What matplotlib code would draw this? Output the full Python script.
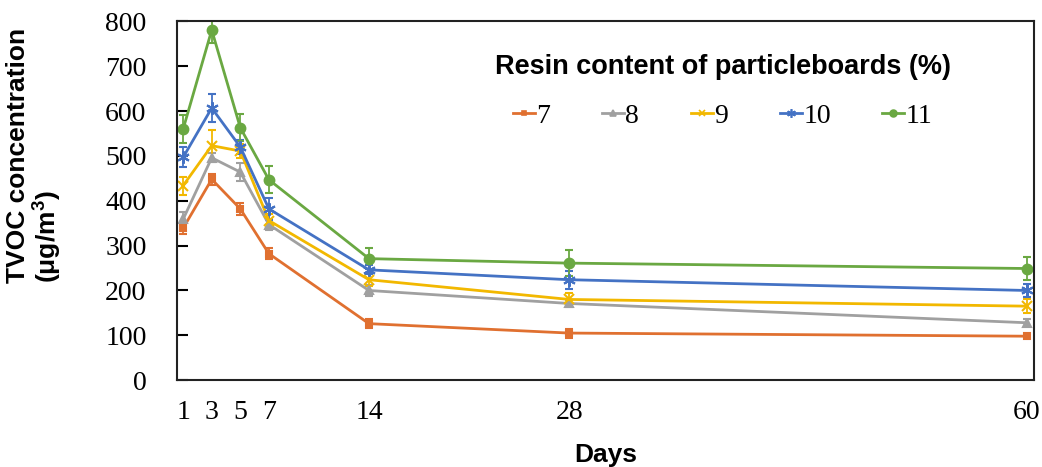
import matplotlib
matplotlib.use("Agg")
import matplotlib.pyplot as plt
from matplotlib.lines import Line2D

# TVOC emission of particleboards with different resin content
days = [1, 3, 5, 7, 14, 28, 60]
resin = ["7", "8", "9", "10", "11"]

tvoc_7 = [339, 448, 382, 282, 126, 105, 98]
tvoc_8 = [359, 496, 464, 347, 200, 171, 128]
tvoc_9 = [434, 523, 511, 356, 224, 180, 165]
tvoc_10 = [497, 607, 520, 382, 246, 224, 200]
tvoc_11 = [560, 781, 563, 447, 271, 261, 249]

err_7 = [12, 12, 14, 12, 10, 10, 4]
err_8 = [15, 10, 20, 12, 12, 8, 8]
err_9 = [20, 34, 15, 15, 15, 15, 15]
err_10 = [22, 32, 15, 25, 10, 20, 15]
err_11 = [32, 30, 30, 30, 24, 29, 26]

series = [tvoc_7, tvoc_8, tvoc_9, tvoc_10, tvoc_11]
errors = [err_7, err_8, err_9, err_10, err_11]
colors = ["#E07030", "#A0A0A0", "#F2B800", "#4472C4", "#6AA842"]
markers = ["s", "^", "x", (6, 2, 0), "o"]
msizes = [4, 6, 7, 9, 7]

serif = ["Liberation Serif", "DejaVu Serif"]
sans = ["Liberation Sans", "DejaVu Sans"]

fig = plt.figure(figsize=(10.42, 4.67), dpi=100)
ax = fig.add_axes([0.170, 0.186, 0.822, 0.768])

handles = []
for name, vals, err, col, mk, ms in zip(resin, series, errors, colors, markers, msizes):
    ax.errorbar(days, vals, yerr=err, color=col, marker=mk, markersize=ms,
                linewidth=2, elinewidth=1.3, capsize=3, capthick=1.3,
                markeredgewidth=1.5)
    handles.append(Line2D([], [], color=col, marker=mk, markersize=ms * 0.7,
                          linewidth=2, markeredgewidth=1.2, label=name))

ax.set_xlim(0.58, 60.5)
ax.set_ylim(0, 800)
ax.set_xticks(days)
ax.set_yticks(range(0, 801, 100))
ax.tick_params(axis="y", direction="in", length=8, width=1.5, pad=22)
ax.tick_params(axis="x", length=0, pad=14)
for lab in ax.get_xticklabels() + ax.get_yticklabels():
    lab.set_family(serif)
    lab.set_fontsize(20)

for sp in ax.spines.values():
    sp.set_linewidth(1.5)
    sp.set_color("#222222")

ax.set_xlabel("Days", family=sans, fontsize=19, fontweight="bold", labelpad=13)
ax.set_ylabel("TVOC concentration\n(\u03bcg/m$^\\mathregular{3}$)", family=sans,
              fontsize=19, fontweight="bold", linespacing=1.0,
              multialignment="left")
ax.yaxis.set_label_coords(-0.133, 0.627)

leg = ax.legend(handles=handles, loc="upper center", bbox_to_anchor=(0.637, 0.98),
                ncol=5, frameon=False, title="Resin content of particleboards (%)",
                prop={"family": serif, "size": 20}, handlelength=0.8,
                handletextpad=0.05, columnspacing=1.85)
leg.get_title().set_family(sans)
leg.get_title().set_fontsize(19.5)
leg.get_title().set_fontweight("bold")
leg._legend_box.sep = 17

fig.savefig("out.png", dpi=100)
